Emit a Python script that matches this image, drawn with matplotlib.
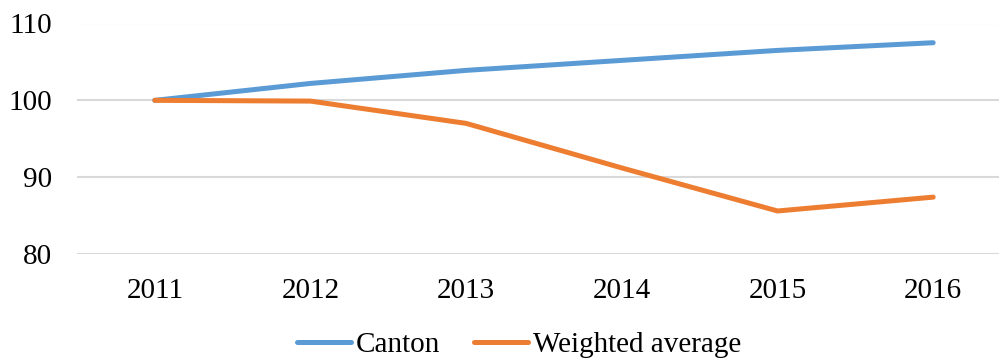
import matplotlib.pyplot as plt

plt.rcParams['font.family'] = ['Liberation Serif', 'DejaVu Serif']

years = ['2011', '2012', '2013', '2014', '2015', '2016']
canton = [100.0, 102.2, 103.9, 105.2, 106.5, 107.5]
weighted = [100.0, 99.9, 97.0, 91.2, 85.6, 87.4]

fig = plt.figure(figsize=(9.99, 3.62), dpi=100)
ax = fig.add_axes([77 / 999, (362 - 254) / 362, (1011 - 77) / 999, (254 - 23.5) / 362])

x = range(len(years))
ax.plot(x, canton, color='#5B9BD5', lw=3.6, solid_capstyle='round', label='Canton')
ax.plot(x, weighted, color='#ED7D31', lw=3.6, solid_capstyle='round', label='Weighted average')

ax.set_xlim(-0.5, len(years) - 0.5)
ax.set_ylim(80, 110)
ax.set_yticks([80, 90, 100, 110])
ax.set_xticks(list(x))
ax.set_xticklabels(years)
ax.tick_params(labelsize=21, length=0)
ax.tick_params(axis='x', pad=17)
ax.tick_params(axis='y', pad=18)

ax.grid(axis='y', color='#D9D9D9', lw=1.5)
ax.set_axisbelow(True)
for s in ax.spines.values():
    s.set_visible(False)

ax.legend(loc='center', bbox_to_anchor=(519 / 999, 1 - 345 / 362), bbox_transform=fig.transFigure,
          ncol=2, frameon=False, fontsize=21, handlelength=1.85, handletextpad=0.18,
          columnspacing=1.15, borderpad=0, borderaxespad=0)
for h in ax.get_legend().get_lines():
    h.set_solid_capstyle('round')

fig.savefig('out.png', dpi=100)
